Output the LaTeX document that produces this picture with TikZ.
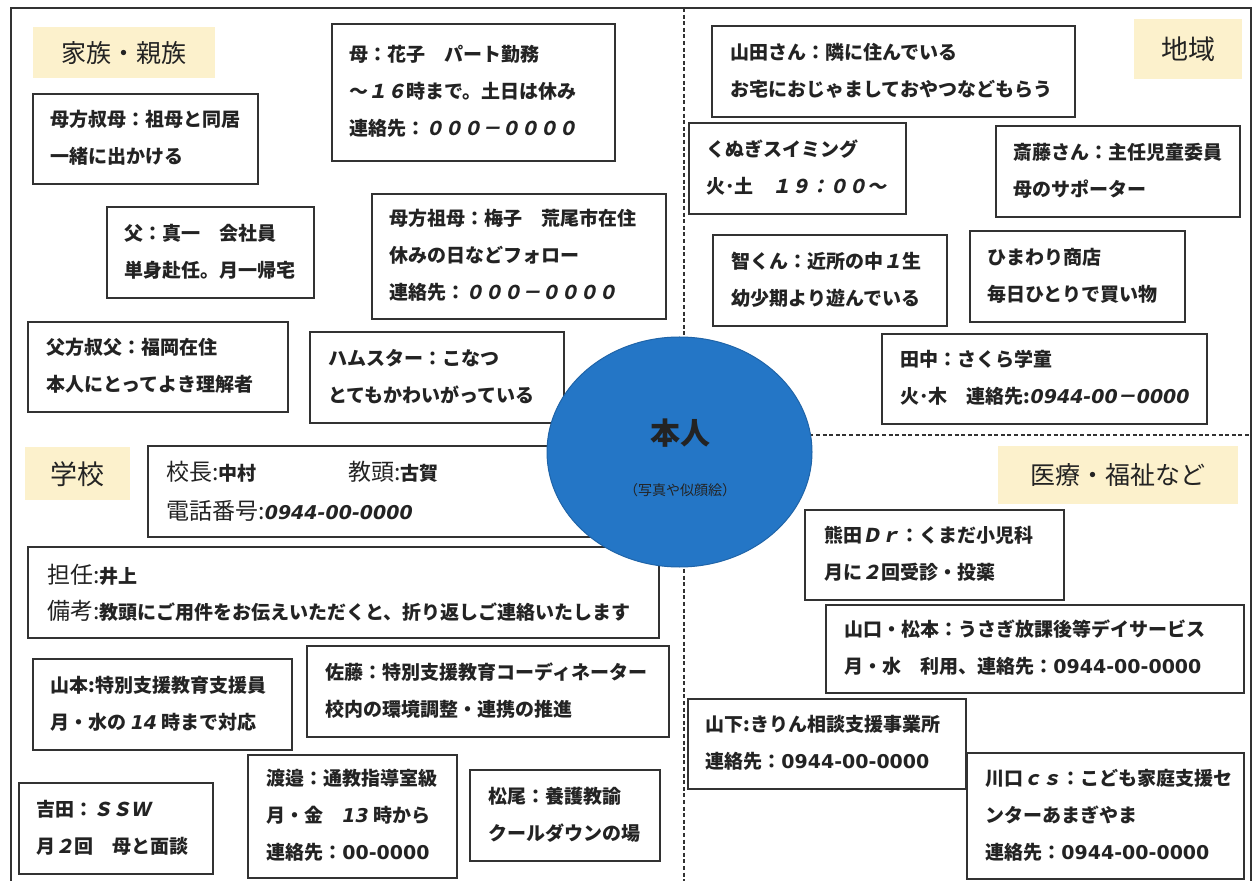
\documentclass[tikz,border=0pt]{standalone}
\usepackage{fontspec}
\usetikzlibrary{shapes.geometric}
\setmainfont{Noto Sans CJK JP}
\newfontfamily\jpslant{Noto Sans CJK JP}[FakeSlant=0.2]
\newfontfamily\numfont{DejaVu Sans}
\definecolor{ink}{RGB}{35,35,35}
\definecolor{edge}{RGB}{50,50,50}
\definecolor{catfill}{RGB}{252,241,204}
\definecolor{selfblue}{RGB}{36,118,198}
\newcommand\nmi[1]{{\numfont\bfseries\itshape #1}}
\newcommand\nmu[1]{{\numfont\bfseries #1}}
\newcommand\fw[1]{{\jpslant\bfseries #1}}
\newcommand\rg[1]{{\mdseries\fontsize{11.5}{19.5}\selectfont #1}}
\tikzset{
  boxframe/.style={draw=edge, line width=0.9pt, fill=white, inner sep=0pt, rectangle},
  boxtext/.style={text=ink, inner sep=0pt, align=left, font=\bfseries\fontsize{9.5}{18.5}\selectfont},
  catbox/.style={fill=catfill, draw=none, inner sep=0pt, text=ink, font=\fontsize{12.5}{14}\selectfont},
  divider/.style={draw=edge, line width=0.6pt, dash pattern=on 2pt off 1.3pt},
  outerframe/.style={draw=edge, line width=1.4pt},
}
\newcommand\mybox[7]{%
  \pgfmathsetmacro\bw{(#4-#2)*0.5}\pgfmathsetmacro\bh{(#5-#3)*0.5}%
  \node[boxframe, minimum width=\bw pt, minimum height=\bh pt, anchor=north west] (#1) at (#2,#3) {};
  \node[boxtext, anchor=west] (#1-t) at (#6,{(#3+#5)/2}) {#7};}
\newcommand\mycat[6]{%
  \pgfmathsetmacro\bw{(#4-#2)*0.5}\pgfmathsetmacro\bh{(#5-#3)*0.5}%
  \node[catbox, minimum width=\bw pt, minimum height=\bh pt, anchor=north west] (#1) at (#2,#3) {#6};}
\begin{document}
\begin{tikzpicture}[x=0.5pt,y=-0.5pt]
\useasboundingbox (0,0) rectangle (1257,881);
\fill[white] (0,0) rectangle (1257,881);
% outer frame
\draw[outerframe] (11,8) rectangle (1251,884);
% dividers
\coordinate (vtop) at (684,8);
\coordinate (vbot) at (684,884);
\coordinate (hleft) at (684,435);
\coordinate (hright) at (1251,435);
\draw[divider] (vtop) -- (vbot);
\draw[divider] (hleft) -- (hright);

% ---- family
\mycat{kazoku}{33}{27}{215}{78}{家族・親族}
\mybox{obam}{32}{93}{257}{183}{50}{母方叔母：祖母と同居\\一緒に出かける}
\mybox{chichi}{106}{206}{313}{297}{124}{父：真一　会社員\\単身赴任。月一帰宅}
\mybox{haha}{331}{23}{614}{160}{349}{母：花子　パート勤務\\～\fw{１６}時まで。土日は休み\\連絡先：\fw{０００－００００}}
\mybox{sobo}{371}{193}{665}{318}{389}{母方祖母：梅子　荒尾市在住\\休みの日などフォロー\\連絡先：\fw{０００－００００}}
\mybox{ojif}{27}{321}{287}{411}{46}{父方叔父：福岡在住\\本人にとってよき理解者}
\mybox{hamster}{309}{331}{563}{422}{328}{ハムスター：こなつ\\とてもかわいがっている}

% ---- school
\mycat{gakko}{25}{447}{130}{500}{{\fontsize{13.5}{14}\selectfont 学校}}
\node[boxframe, minimum width=236.5pt, minimum height=45.5pt, anchor=north west] (kocho) at (147,445) {};
\node[boxtext, anchor=west, font=\bfseries\fontsize{9.5}{19.5}\selectfont] (kocho-t) at (166,491)
  {\makebox[91pt][l]{\rg{校長:}中村}\rg{教頭:}古賀\\\rg{電話番号:}\nmi{0944-00-0000}};
\node[boxframe, minimum width=315.5pt, minimum height=45.5pt, anchor=north west] (tannin) at (27,546) {};
\node[boxtext, anchor=west, font=\bfseries\fontsize{9.5}{18}\selectfont] (tannin-t) at (47,593)
  {\rg{担任:}井上\\\rg{備考:}教頭にご用件をお伝えいただくと、折り返しご連絡いたします};
\mybox{yamamoto}{32}{658}{291}{749}{50}{山本:特別支援教育支援員\\月・水の \nmi{14} 時まで対応}
\mybox{sato}{306}{645}{668}{736}{325}{佐藤：特別支援教育コーディネーター\\校内の環境調整・連携の推進}
\mybox{yoshida}{18}{782}{212}{873}{36}{吉田：\fw{ＳＳＷ}\\月\fw{２}回　母と面談}
\mybox{watanabe}{247}{754}{456}{877}{266}{渡邉：通教指導室級\\月・金　\nmi{13} 時から\\連絡先：\nmu{00-0000}}
\mybox{matsuo}{469}{769}{659}{860}{488}{松尾：養護教諭\\クールダウンの場}

% ---- region
\mycat{chiiki}{1134}{19}{1242}{79}{{\fontsize{13.5}{14}\selectfont 地域}}
\mybox{yamada}{711}{25}{1074}{116}{730}{山田さん：隣に住んでいる\\お宅におじゃましておやつなどもらう}
\mybox{kunugi}{688}{122}{905}{213}{706}{くぬぎスイミング\\火･土　\fw{１９：００～}}
\mybox{saito}{995}{125}{1239}{216}{1013}{斎藤さん：主任児童委員\\母のサポーター}
\mybox{satoshi}{712}{234}{946}{325}{731}{智くん：近所の中\fw{１}生\\幼少期より遊んでいる}
\mybox{himawari}{969}{230}{1184}{321}{987}{ひまわり商店\\毎日ひとりで買い物}
\mybox{tanaka}{881}{333}{1206}{423}{900}{田中：さくら学童\\火･木　連絡先:\nmi{0944-00}\fw{－}\nmi{0000}}

% ---- medical / welfare
\mycat{iryo}{998}{446}{1238}{504}{医療・福祉など}
\mybox{kumada}{804}{509}{1063}{599}{824}{熊田\fw{Ｄｒ}：くまだ小児科\\月に\fw{２}回受診・投薬}
\mybox{yamaguchi}{825}{604}{1243}{692}{844}{山口・松本：うさぎ放課後等デイサービス\\月・水　利用、連絡先：\nmu{0944-00-0000}}
\mybox{yamashita}{687}{698}{965}{788}{705}{山下:きりん相談支援事業所\\連絡先：\nmu{0944-00-0000}}
\mybox{kawaguchi}{966}{752}{1243}{878}{985}{川口\fw{ｃｓ}：こども家庭支援セ\\ンターあまぎやま\\連絡先：\nmu{0944-00-0000}}

% ---- self
\node[ellipse, fill=selfblue, draw=selfblue!85!black, line width=0.5pt, minimum width=132.5pt, minimum height=115pt, inner sep=0pt] (self) at (679.5,452) {};
\node[text=ink, font=\bfseries\fontsize{15}{15}\selectfont, inner sep=0pt] (self-t) at (680,433) {本人};
\node[text=ink, font=\fontsize{7}{7}\selectfont, inner sep=0pt] (self-s) at (680,490) {（写真や似顔絵）};
\end{tikzpicture}
\end{document}
